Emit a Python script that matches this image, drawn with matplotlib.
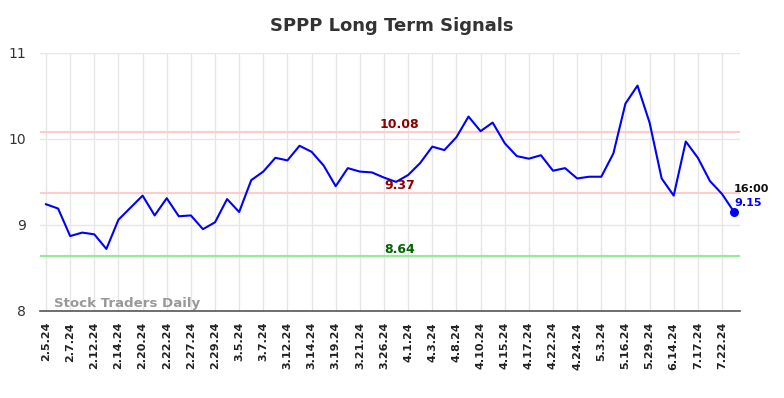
import numpy as np
import matplotlib
matplotlib.use("Agg")
import matplotlib.pyplot as plt

# Labelled dates (every other point on the axis)
tick_labels = ['2.5.24', '2.7.24', '2.12.24', '2.14.24', '2.20.24', '2.22.24', '2.27.24',
               '2.29.24', '3.5.24', '3.7.24', '3.12.24', '3.14.24', '3.19.24', '3.21.24',
               '3.26.24', '4.1.24', '4.3.24', '4.8.24', '4.10.24', '4.15.24', '4.17.24',
               '4.22.24', '4.24.24', '5.3.24', '5.16.24', '5.29.24', '6.14.24', '7.17.24',
               '7.22.24']

# Closing prices
prices = [9.24, 9.19, 8.87, 8.91, 8.89, 8.72, 9.06, 9.20, 9.34, 9.11,
          9.31, 9.10, 9.11, 8.95, 9.03, 9.30, 9.15, 9.52, 9.62, 9.78,
          9.75, 9.92, 9.85, 9.69, 9.45, 9.66, 9.62, 9.61, 9.55, 9.50,
          9.58, 9.72, 9.91, 9.87, 10.02, 10.26, 10.09, 10.19, 9.95, 9.80,
          9.77, 9.81, 9.63, 9.66, 9.54, 9.56, 9.56, 9.83, 10.41, 10.62,
          10.19, 9.54, 9.34, 9.97, 9.78, 9.51, 9.36, 9.15]

upper_signal = 10.08
mid_signal = 9.37
lower_signal = 8.64
last_time = '16:00'

x = np.arange(len(prices))

fig = plt.figure(figsize=(7.84, 3.98), dpi=100)
ax = fig.add_axes([0.051, 0.219, 0.893, 0.648])

ax.plot(x, prices, color='#0000ff', linewidth=1.5, zorder=3)
ax.scatter([x[-1]], [prices[-1]], color='#0000ff', s=30, zorder=4)

ax.axhline(upper_signal, color='#ffcccc', linewidth=1.5, zorder=2)
ax.axhline(mid_signal, color='#ffcccc', linewidth=1.5, zorder=2)
ax.axhline(lower_signal, color='#90ee90', linewidth=1.5, zorder=2)

mid_x = 29.3
ax.text(mid_x, upper_signal + 0.015, f'{upper_signal:.2f}', color='#8b0000',
        fontsize=9, fontweight='bold', ha='center', va='bottom')
ax.text(mid_x, mid_signal + 0.01, f'{mid_signal:.2f}', color='#8b0000',
        fontsize=9, fontweight='bold', ha='center', va='bottom')
ax.text(mid_x, lower_signal + 0.0, f'{lower_signal:.2f}', color='#006400',
        fontsize=9, fontweight='bold', ha='center', va='bottom')

ax.annotate(last_time, (x[-1], prices[-1]), xytext=(0, 13), textcoords='offset points',
            fontsize=8, fontweight='bold', color='#111111', ha='left', va='bottom')
ax.annotate(f'{prices[-1]:.2f}', (x[-1], prices[-1]), xytext=(0, 3), textcoords='offset points',
            fontsize=8, fontweight='bold', color='#0000ff', ha='left', va='bottom')

ax.text(0.02, 0.005, 'Stock Traders Daily', transform=ax.transAxes, color='#999999',
        fontsize=9.6, fontweight='bold', ha='left', va='bottom')

ax.set_xlim(-0.5, len(prices) - 0.5)
ax.set_ylim(8, 11)
ax.set_yticks([8, 9, 10, 11])
ax.set_xticks(x[::2])
ax.set_xticklabels(tick_labels, rotation=90, fontsize=8, fontweight='bold')
ax.tick_params(axis='x', length=0, pad=8, colors='#222222')
ax.tick_params(axis='y', length=0, pad=10, labelsize=10, colors='#333333')

ax.grid(True, color='#e6e6e6', linewidth=1)
ax.set_axisbelow(True)
for side in ['top', 'right', 'left']:
    ax.spines[side].set_visible(False)
ax.spines['bottom'].set_color('#555555')
ax.spines['bottom'].set_linewidth(1.2)

fig.text(0.5, 0.935, 'SPPP Long Term Signals', fontsize=13, fontweight='bold',
         color='#333333', ha='center', va='center')

fig.savefig('out.png', dpi=100)
